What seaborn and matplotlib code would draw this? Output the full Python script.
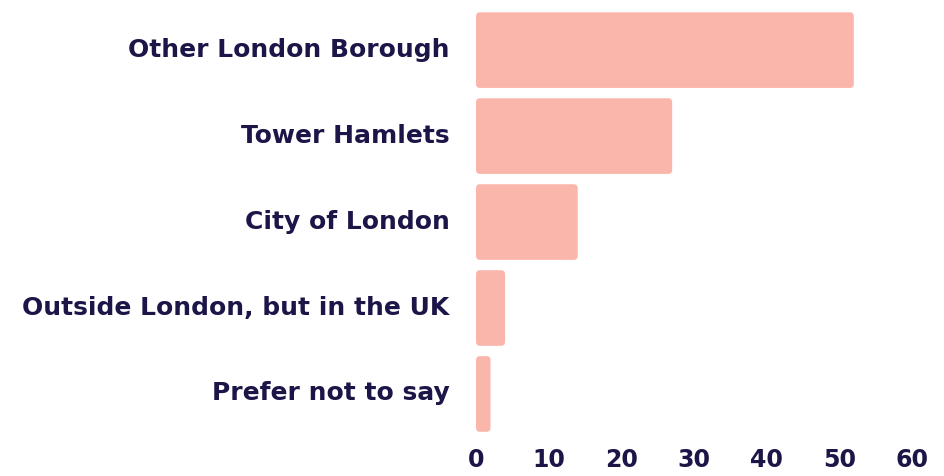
import matplotlib
matplotlib.use("Agg")
import matplotlib.pyplot as plt
from matplotlib.patches import FancyBboxPatch
from matplotlib.transforms import ScaledTranslation
import seaborn as sns
import pandas as pd

# Where respondents live
locations = [
    "Other London Borough",
    "Tower Hamlets",
    "City of London",
    "Outside London, but in the UK",
    "Prefer not to say",
]
counts = [52, 27, 14, 4, 2]
x_ticks = [0, 10, 20, 30, 40, 50, 60]

bar_color = "#fbb6ab"
text_color = "#1b1548"

sns.set_theme(style="white")
plt.rcParams["font.family"] = ["DejaVu Sans"]

df = pd.DataFrame({"location": locations, "count": counts})

fig = plt.figure(figsize=(9.45, 4.76), dpi=100)
ax = fig.add_axes([0.5037, 0.082, 0.4613, 0.903])

sns.barplot(data=df, y="location", x="count", order=locations,
            color=bar_color, saturation=1, width=0.88, ax=ax)

ax.set_xlim(0, 60)
ax.set_ylim(4.5, -0.5)

# swap the square bars for rounded ones with the same geometry
px_x = 0.4613 * 945 / 60
px_y = 0.903 * 476 / 5
radius_px = 4.0
for p in list(ax.patches):
    x0, y0 = p.get_x(), p.get_y()
    w, h = p.get_width(), p.get_height()
    p.remove()
    ax.add_patch(FancyBboxPatch(
        (x0, y0), w, h,
        boxstyle=f"round,pad=0,rounding_size={radius_px / px_x}",
        mutation_aspect=px_x / px_y,
        facecolor=bar_color, edgecolor="none", zorder=2))

ax.set_xticks(x_ticks)
ax.set_xticklabels([str(t) for t in x_ticks])
ax.set_xlabel("")
ax.set_ylabel("")
for s in ax.spines.values():
    s.set_visible(False)
ax.tick_params(axis="both", length=0, colors=text_color)
ax.tick_params(axis="y", pad=19, labelsize=18)
ax.tick_params(axis="x", pad=8, labelsize=17)
for lbl in ax.get_yticklabels() + ax.get_xticklabels():
    lbl.set_fontweight("bold")
    lbl.set_color(text_color)

# nudge the category names slightly upward
lift = ScaledTranslation(0, 3 / 100, fig.dpi_scale_trans)
for lbl in ax.get_yticklabels():
    lbl.set_transform(lbl.get_transform() + lift)

fig.savefig("out.png", dpi=100, facecolor="white")
